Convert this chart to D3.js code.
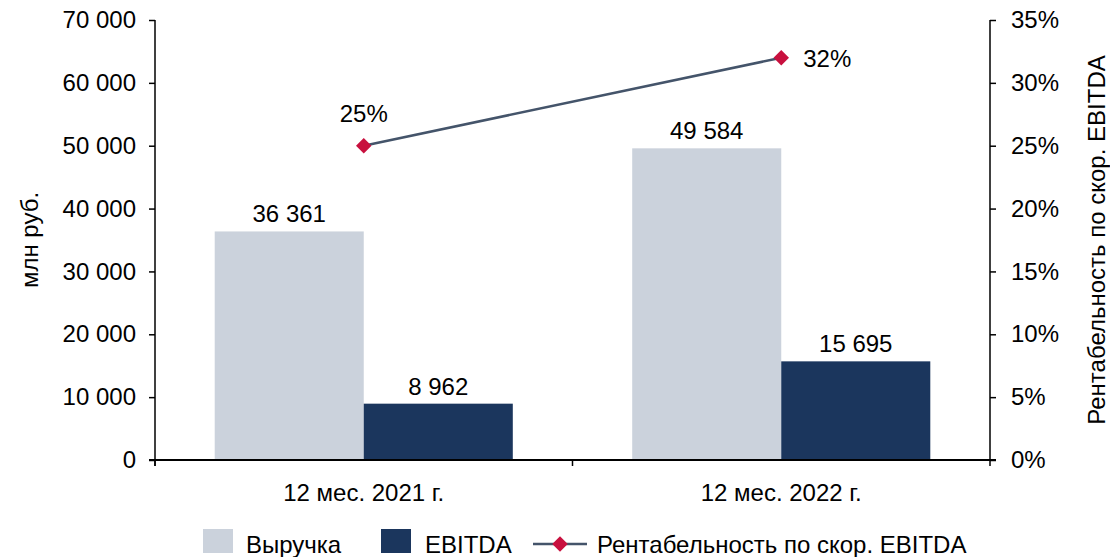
<!DOCTYPE html>
<html>
<head>
<meta charset="utf-8">
<script src="https://cdn.jsdelivr.net/npm/d3@7"></script>
<style>
  body { margin: 0; background: #fff; }
  svg text { font-family: "Liberation Sans", Arial, sans-serif; fill: #000; }
</style>
</head>
<body>
<svg id="chart" width="1110" height="557"></svg>
<script>
// данные
var categories = ["12 мес. 2021 г.", "12 мес. 2022 г."];
var seriesNames = ["Выручка", "EBITDA"];
var revenue = [36361, 49584];
var ebitda = [8962, 15695];
var margin = [25, 32];
var leftTicks = [0, 10000, 20000, 30000, 40000, 50000, 60000, 70000];
var rightTicks = [0, 5, 10, 15, 20, 25, 30, 35];

var colors = { "Выручка": "#cbd2dc", "EBITDA": "#1b365d" };
var lineColor = "#44546a", markColor = "#c8103e";

var pL = 155, pR = 990, pT = 20, pB = 460;
var fs = 24;

var svg = d3.select("#chart");

function fmt(v) {
  return d3.format(",")(v).replace(/,/g, " ");
}

var x0 = d3.scaleBand()
  .domain(categories)
  .range([pL, pR])
  .paddingInner(0.286)
  .paddingOuter(0.143);

var x1 = d3.scaleBand()
  .domain(seriesNames)
  .range([0, x0.bandwidth()]);

var y = d3.scaleLinear().domain([0, 70000]).range([pB, pT]);
var y2 = d3.scaleLinear().domain([0, 35]).range([pB, pT]);

var rows = categories.map(function(c, i) {
  return { cat: c, vals: [{ k: "Выручка", v: revenue[i] }, { k: "EBITDA", v: ebitda[i] }], m: margin[i] };
});

// столбцы
var g = svg.selectAll("g.grp")
  .data(rows)
  .enter().append("g")
  .attr("class", "grp")
  .attr("transform", function(d) { return "translate(" + x0(d.cat) + ",0)"; });

g.selectAll("rect")
  .data(function(d) { return d.vals; })
  .enter().append("rect")
  .attr("x", function(d) { return x1(d.k); })
  .attr("y", function(d) { return y(d.v); })
  .attr("width", x1.bandwidth())
  .attr("height", function(d) { return pB - y(d.v); })
  .attr("fill", function(d) { return colors[d.k]; });

g.selectAll("text.val")
  .data(function(d) { return d.vals; })
  .enter().append("text")
  .attr("class", "val")
  .attr("x", function(d) { return x1(d.k) + x1.bandwidth() / 2; })
  .attr("y", function(d) { return y(d.v) - 9; })
  .attr("text-anchor", "middle")
  .style("font-size", fs + "px")
  .text(function(d) { return fmt(d.v); });

// оси
var axL = d3.axisLeft(y).tickValues(leftTicks).tickSize(6).tickPadding(13)
  .tickFormat(fmt);
var axR = d3.axisRight(y2).tickValues(rightTicks).tickSize(6).tickPadding(15)
  .tickFormat(function(d) { return d + "%"; });

var gl = svg.append("g").attr("transform", "translate(" + pL + ",0)").call(axL);
var gr = svg.append("g").attr("transform", "translate(" + pR + ",0)").call(axR);
[gl, gr].forEach(function(a) {
  a.select(".domain").remove();
  a.append("line").attr("x1", 0).attr("x2", 0).attr("y1", pT).attr("y2", pB + 6)
    .attr("stroke", "#000").attr("stroke-width", 1.5);
  a.selectAll(".tick line").attr("stroke", "#000").attr("stroke-width", 1.5);
  a.selectAll("text").style("font-size", fs + "px").style("font-family", "Liberation Sans, Arial, sans-serif");
});

var xb = svg.append("g");
xb.append("line").attr("x1", pL - 6).attr("x2", pR + 6).attr("y1", pB).attr("y2", pB)
  .attr("stroke", "#000").attr("stroke-width", 2);
var bounds = [pL].concat(categories.slice(1).map(function(c) { return x0(c) - x0.step() * x0.paddingInner() / 2; }));
xb.selectAll("line.t")
  .data(bounds)
  .enter().append("line")
  .attr("class", "t")
  .attr("x1", function(d) { return d; }).attr("x2", function(d) { return d; })
  .attr("y1", pB).attr("y2", pB + 6)
  .attr("stroke", "#000").attr("stroke-width", 1.5);
xb.selectAll("text")
  .data(categories)
  .enter().append("text")
  .attr("x", function(d) { return x0(d) + x0.bandwidth() / 2; })
  .attr("y", pB + 41)
  .attr("text-anchor", "middle")
  .style("font-size", fs + "px")
  .text(function(d) { return d; });

// линия рентабельности
var cx = function(d) { return x0(d.cat) + x0.bandwidth() / 2; };
svg.append("path")
  .datum(rows)
  .attr("d", d3.line().x(cx).y(function(d) { return y2(d.m); }))
  .attr("fill", "none")
  .attr("stroke", lineColor)
  .attr("stroke-width", 2.5);

svg.selectAll("path.mk")
  .data(rows)
  .enter().append("path")
  .attr("class", "mk")
  .attr("d", d3.symbol().type(d3.symbolSquare).size(120))
  .attr("transform", function(d) { return "translate(" + cx(d) + "," + y2(d.m) + ") rotate(45)"; })
  .attr("fill", markColor);

svg.selectAll("text.mlab")
  .data(rows)
  .enter().append("text")
  .attr("class", "mlab")
  .attr("x", function(d, i) { return i === 0 ? cx(d) : cx(d) + 22; })
  .attr("y", function(d, i) { return i === 0 ? y2(d.m) - 24 : y2(d.m) + 9; })
  .attr("text-anchor", function(d, i) { return i === 0 ? "middle" : "start"; })
  .style("font-size", fs + "px")
  .text(function(d) { return d.m + "%"; });

// подписи осей
svg.append("text")
  .attr("transform", "translate(38," + (pT + pB) / 2 + ") rotate(-90)")
  .attr("text-anchor", "middle")
  .style("font-size", fs + "px")
  .text("млн руб.");
svg.append("text")
  .attr("transform", "translate(1105," + (pT + pB) / 2 + ") rotate(-90)")
  .attr("text-anchor", "middle")
  .style("font-size", fs + "px")
  .text("Рентабельность по скор. EBITDA");

// легенда
var lg = svg.append("g");
lg.append("rect").attr("x", 203).attr("y", 529).attr("width", 30).attr("height", 24).attr("fill", colors["Выручка"]);
lg.append("text").attr("x", 246).attr("y", 553).style("font-size", fs + "px").text("Выручка");
lg.append("rect").attr("x", 381).attr("y", 529).attr("width", 30).attr("height", 24).attr("fill", colors["EBITDA"]);
lg.append("text").attr("x", 425).attr("y", 553).style("font-size", fs + "px").text("EBITDA");
lg.append("line").attr("x1", 533).attr("x2", 587).attr("y1", 544).attr("y2", 544)
  .attr("stroke", lineColor).attr("stroke-width", 2.5);
lg.append("path").attr("d", d3.symbol().type(d3.symbolSquare).size(120))
  .attr("transform", "translate(560,544) rotate(45)").attr("fill", markColor);
lg.append("text").attr("x", 597).attr("y", 553).style("font-size", fs + "px").text("Рентабельность по скор. EBITDA");
</script>
</body>
</html>
